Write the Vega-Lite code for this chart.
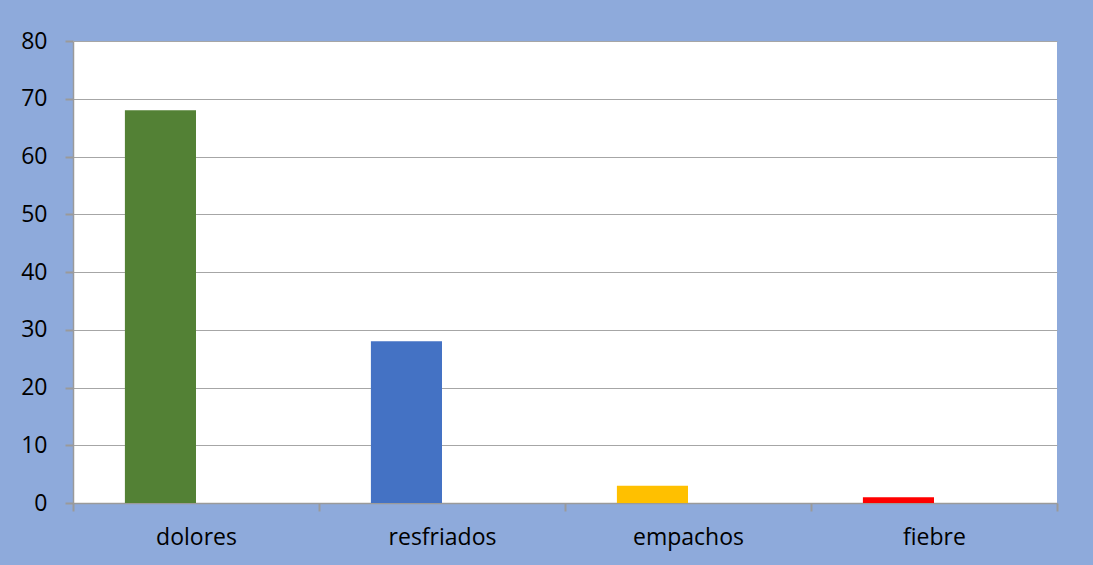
{
  "$schema": "https://vega.github.io/schema/vega-lite/v6.json",
  "width": 984,
  "height": 462,
  "autosize": {"type": "none"},
  "padding": {"left": 73, "top": 41, "right": 36, "bottom": 62},
  "background": "#8EAADB",
  "config": {
    "view": {"fill": "white", "stroke": null},
    "font": "Open Sans",
    "axis": {
      "labelFont": "Open Sans",
      "labelFontSize": 23,
      "labelColor": "#000000",
      "domainColor": "#9A9A9A",
      "tickColor": "#9A9A9A",
      "gridColor": "#A6A6A6",
      "domainWidth": 1.5,
      "ticks": true,
      "tickWidth": 2,
      "tickOpacity": 1,
      "gridWidth": 1
    }
  },
  "data": {
    "values": [
      {"categoria": "dolores", "serie": "s1", "valor": 68, "color": "#538135"},
      {"categoria": "resfriados", "serie": "s1", "valor": 28, "color": "#4472C4"},
      {"categoria": "empachos", "serie": "s1", "valor": 3, "color": "#FFC000"},
      {"categoria": "fiebre", "serie": "s1", "valor": 1, "color": "#FF0000"}
    ]
  },
  "mark": {"type": "bar"},
  "encoding": {
    "x": {
      "field": "categoria",
      "type": "nominal",
      "sort": ["dolores", "resfriados", "empachos", "fiebre"],
      "scale": {"paddingInner": 0, "paddingOuter": 0},
      "axis": {
        "title": null,
        "labelAngle": 0,
        "labelPadding": 15,
        "ticks": true,
        "tickSize": 8,
        "tickBand": "extent",
        "grid": false
      }
    },
    "xOffset": {
      "field": "serie",
      "type": "nominal",
      "scale": {"domain": ["s1", "s2"], "paddingInner": 0, "paddingOuter": 0.73}
    },
    "y": {
      "field": "valor",
      "type": "quantitative",
      "scale": {"domain": [0, 80], "nice": false},
      "axis": {
        "title": null,
        "values": [0, 10, 20, 30, 40, 50, 60, 70, 80],
        "ticks": true,
        "tickSize": 8,
        "labelPadding": 18,
        "grid": true
      }
    },
    "color": {"field": "color", "type": "nominal", "scale": null, "legend": null}
  }
}
